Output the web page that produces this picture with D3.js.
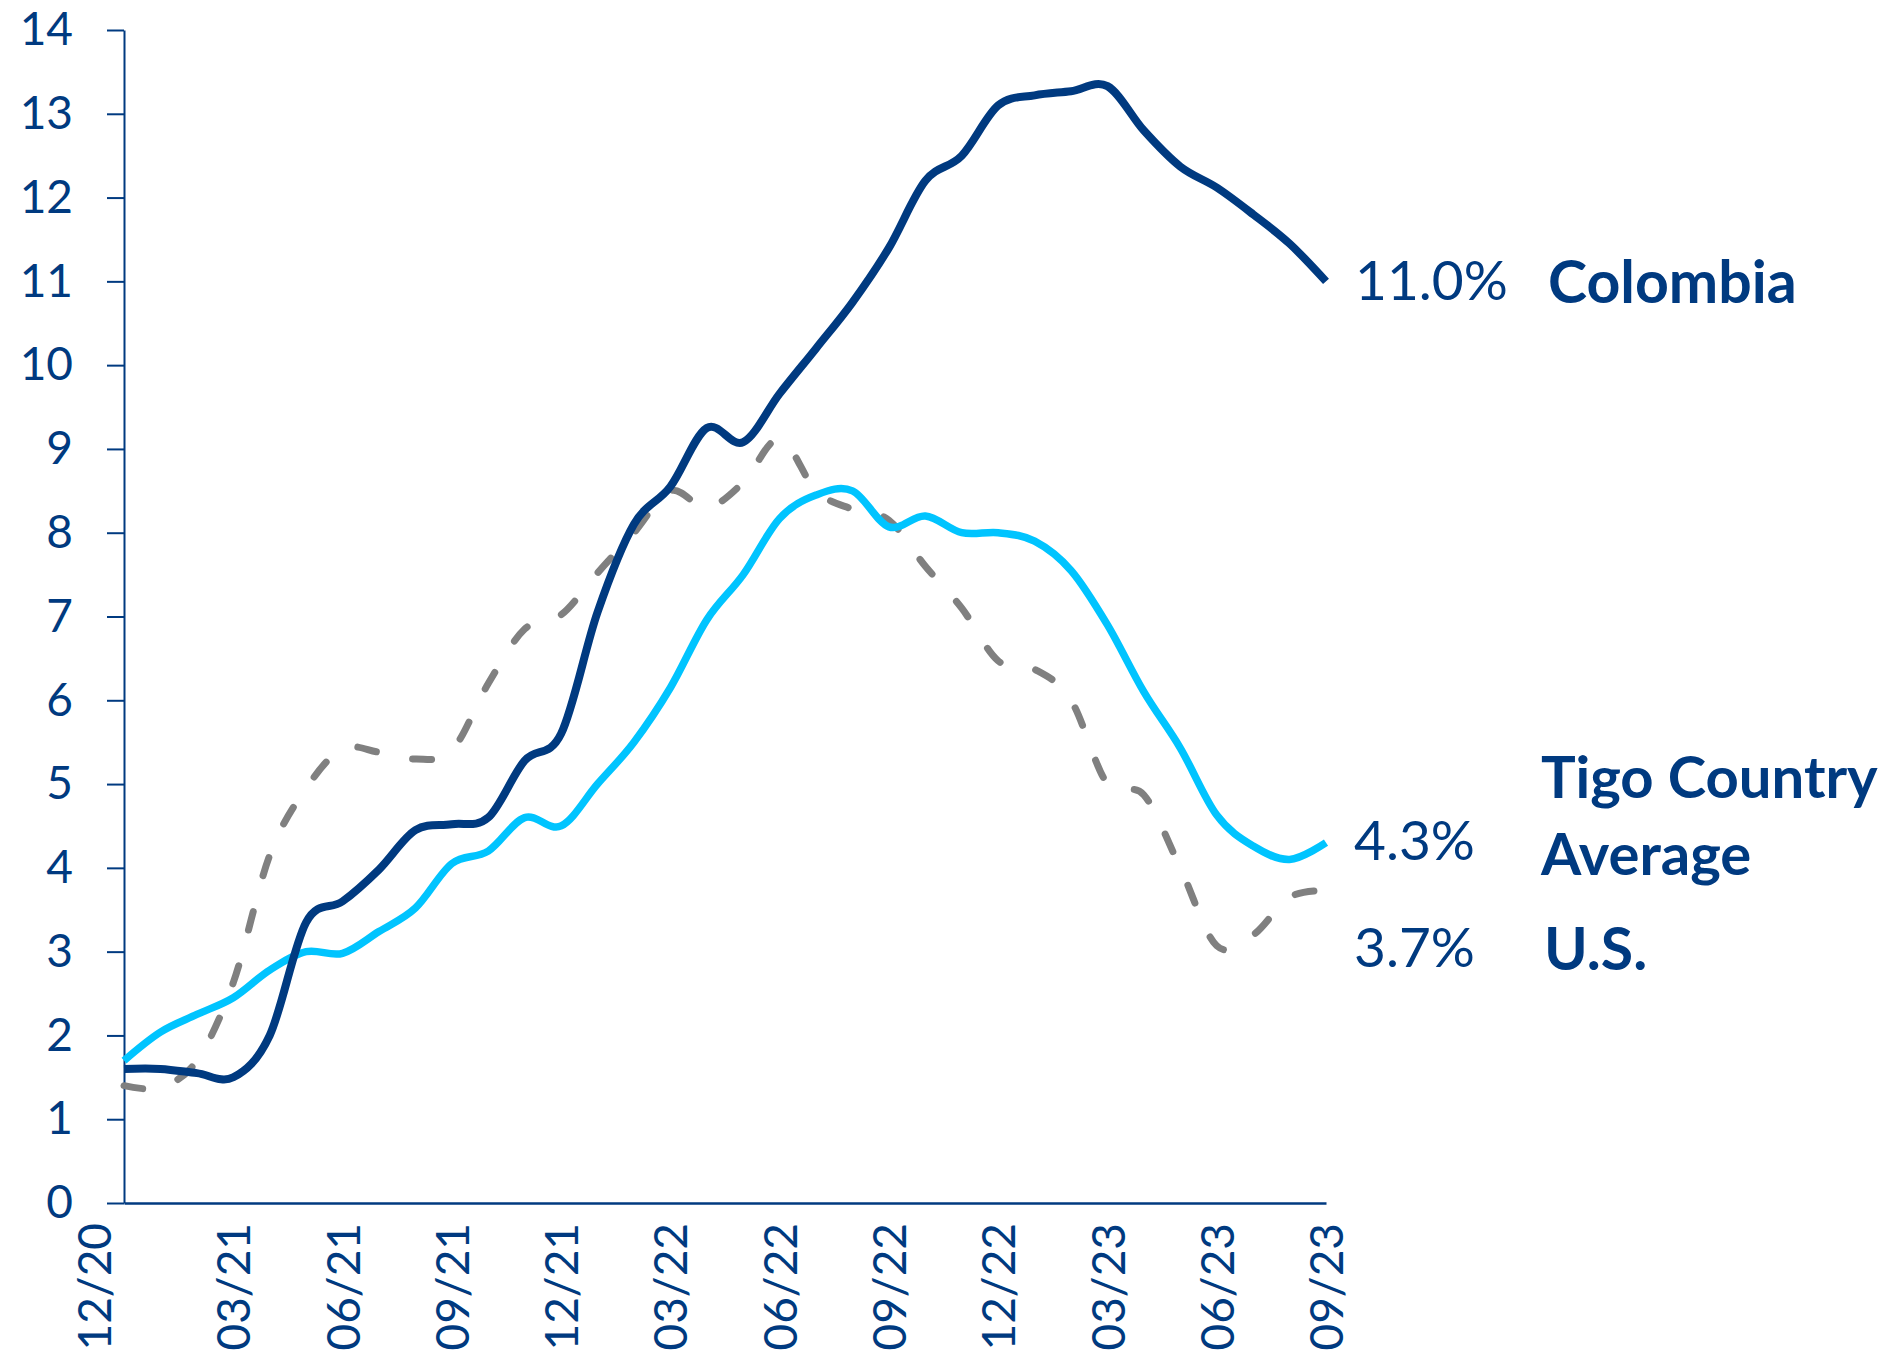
<!DOCTYPE html>
<html>
<head>
<meta charset="utf-8">
<script src="https://cdn.jsdelivr.net/npm/d3@7"></script>
<style>
  html, body { margin: 0; padding: 0; background: #fff; }
  svg { display: block; font-family: Lato, "Noto Sans", sans-serif; }
</style>
</head>
<body>
<svg id="chart"></svg>
<script>
// monthly, 12/20 .. 09/23
const months = ["12/20","01/21","02/21","03/21","04/21","05/21","06/21","07/21","08/21","09/21","10/21","11/21",
  "12/21","01/22","02/22","03/22","04/22","05/22","06/22","07/22","08/22","09/22","10/22","11/22",
  "12/22","01/23","02/23","03/23","04/23","05/23","06/23","07/23","08/23","09/23"]

const colombia = [1.6, 1.6, 1.55, 1.5, 2.0, 3.35, 3.6, 3.98, 4.45, 4.52, 4.6, 5.28,
  5.6, 7.05, 8.1, 8.55, 9.25, 9.08, 9.66, 10.2, 10.75, 11.4, 12.2, 12.5,
  13.1, 13.22, 13.27, 13.33, 12.8, 12.37, 12.12, 11.8, 11.45, 11.0]

const tigo = [1.7, 2.04, 2.25, 2.45, 2.78, 3.0, 2.98, 3.24, 3.52, 4.05, 4.2, 4.6,
  4.5, 5.0, 5.5, 6.15, 6.96, 7.5, 8.17, 8.45, 8.5, 8.07, 8.2, 8.0,
  8.0, 7.9, 7.55, 6.9, 6.1, 5.43, 4.63, 4.26, 4.1, 4.3]

const us = [1.4, 1.38, 1.7, 2.63, 4.15, 4.95, 5.42, 5.38, 5.3, 5.4, 6.2, 6.85,
  7.02, 7.52, 8.0, 8.5, 8.3, 8.6, 9.12, 8.5, 8.28, 8.15, 7.6, 7.1,
  6.47, 6.37, 6.0, 5.0, 4.87, 4.0, 3.07, 3.2, 3.65, 3.73]

const yTicks = d3.range(0, 15)
const xTicks = months.filter((d, i) => i % 3 === 0)

const seriesNames = ["Colombia", "Tigo Country Average", "U.S."]
const endLabels = ["11.0%", "4.3%", "3.7%"]

const navy = "#003a80"
const cyan = "#00c4ff"
const grey = "#808080"

const width = 1885, height = 1353
const svg = d3.select("#chart").attr("width", width).attr("height", height)

const x = d3.scalePoint().domain(months).range([124, 1326])
const y = d3.scaleLinear().domain([0, 14]).range([1203, 30])

// y axis
const yAxis = svg.append("g")
  .attr("transform", "translate(124,0)")
  .call(d3.axisLeft(y).tickValues(yTicks).tickSize(17).tickPadding(34).tickSizeOuter(0))
yAxis.select(".domain").attr("stroke", navy).attr("stroke-width", 2)
yAxis.selectAll(".tick line").attr("stroke", navy).attr("stroke-width", 2)
yAxis.selectAll(".tick text")
  .attr("fill", navy)
  .attr("font-size", 46)
  .attr("font-family", "Lato")

// x axis
const xAxis = svg.append("g")
  .attr("transform", "translate(0,1203)")
  .call(d3.axisBottom(x).tickValues(xTicks).tickSize(0).tickSizeOuter(0))
xAxis.select(".domain").attr("stroke", navy).attr("stroke-width", 2.5)
xAxis.selectAll(".tick text")
  .attr("fill", navy)
  .attr("font-size", 46)
  .attr("font-family", "Lato")
  .attr("text-anchor", "end")
  .attr("transform", "rotate(-90)")
  .attr("x", -20)
  .attr("y", 0)
  .attr("dy", "0.36em")
// first label sits left of the axis line
xAxis.selectAll(".tick text").filter(d => d === months[0]).attr("dy", "-0.29em")

// lines
const line = d3.line()
  .x((d, i) => x(months[i]))
  .y(d => y(d))
  .curve(d3.curveCardinal.tension(0))

svg.append("path").datum(us)
  .attr("d", line)
  .attr("fill", "none")
  .attr("stroke", grey)
  .attr("stroke-width", 7)
  .attr("stroke-linecap", "round")
  .attr("stroke-dasharray", "19,37")

svg.append("path").datum(tigo)
  .attr("d", line)
  .attr("fill", "none")
  .attr("stroke", cyan)
  .attr("stroke-width", 7.5)

svg.append("path").datum(colombia)
  .attr("d", line)
  .attr("fill", "none")
  .attr("stroke", navy)
  .attr("stroke-width", 8)

// end labels
const labels = svg.append("g").attr("fill", navy).attr("font-family", "Lato")

labels.append("text").attr("x", 1355).attr("y", 300)
  .attr("font-size", 55).text(endLabels[0])
labels.append("text").attr("x", 1548).attr("y", 303)
  .attr("font-size", 59).attr("font-weight", "bold").text(seriesNames[0])

labels.append("text").attr("x", 1354).attr("y", 860)
  .attr("font-size", 55).text(endLabels[1])
labels.append("text").attr("x", 1541).attr("y", 798)
  .attr("font-size", 58).attr("font-weight", "bold").text("Tigo Country")
labels.append("text").attr("x", 1541).attr("y", 875)
  .attr("font-size", 58).attr("font-weight", "bold").text("Average")

labels.append("text").attr("x", 1354).attr("y", 967)
  .attr("font-size", 55).text(endLabels[2])
labels.append("text").attr("x", 1544).attr("y", 970)
  .attr("font-size", 59).attr("font-weight", "bold").text(seriesNames[2])
</script>
</body>
</html>
